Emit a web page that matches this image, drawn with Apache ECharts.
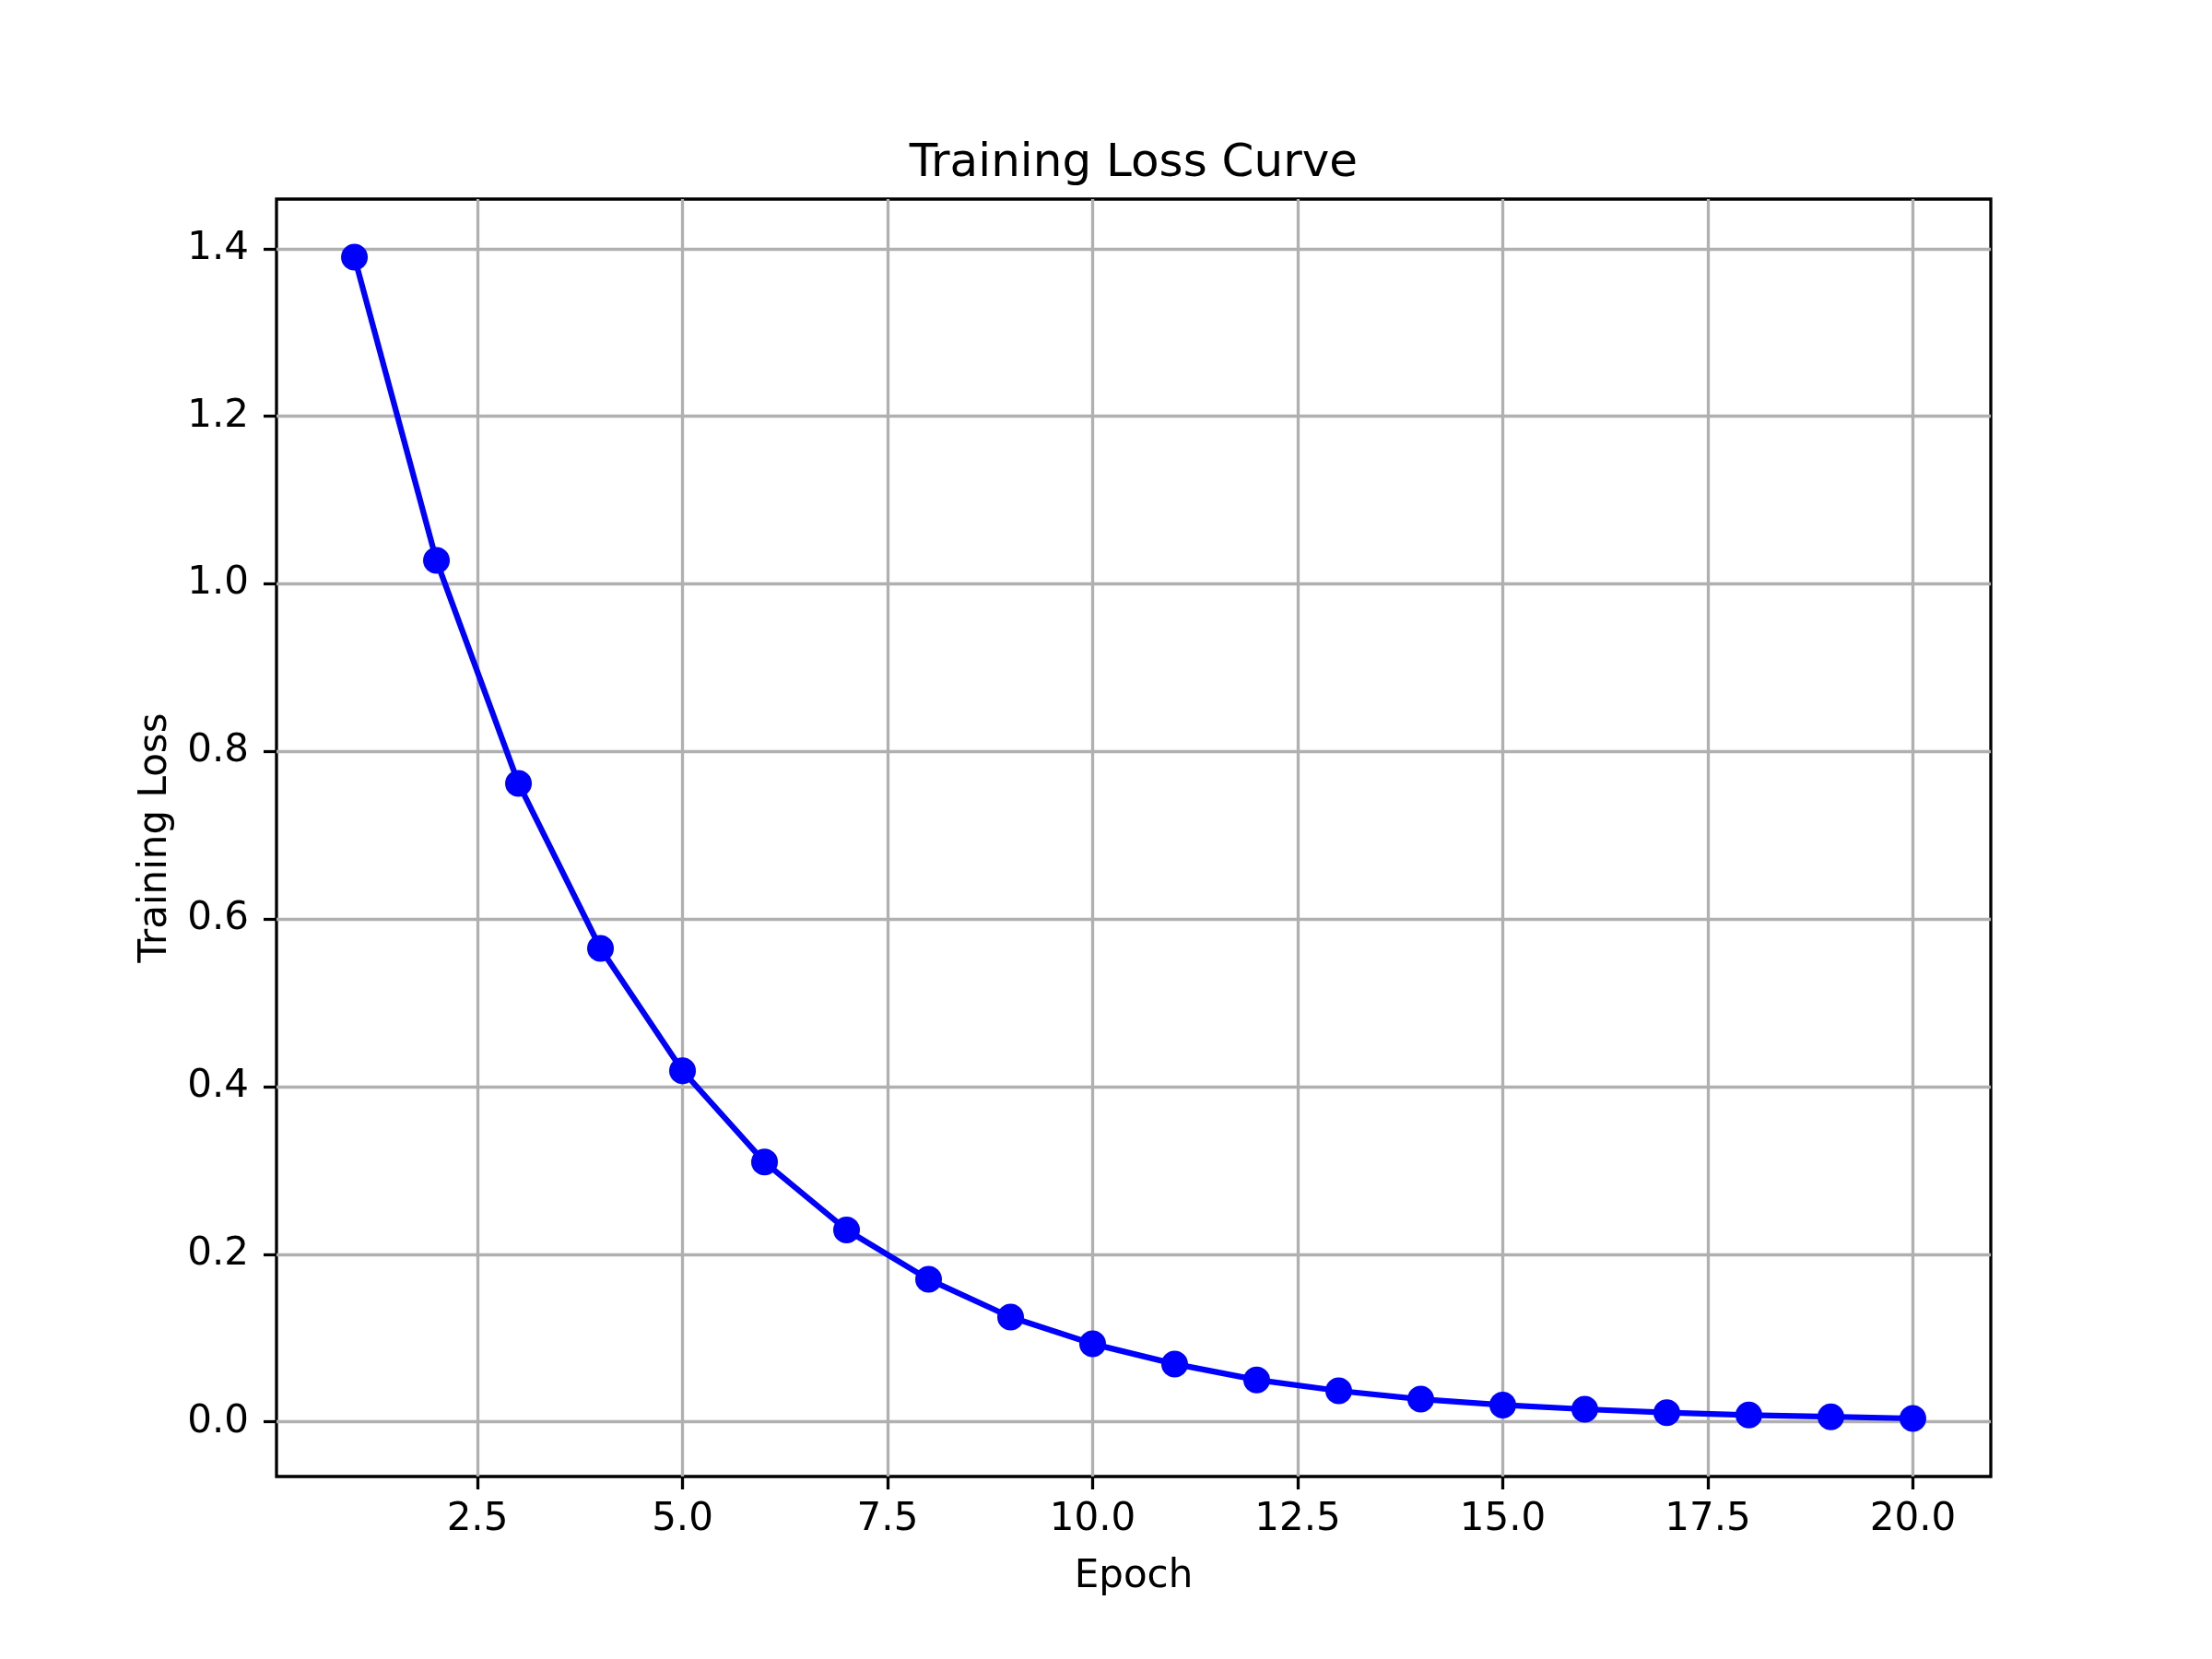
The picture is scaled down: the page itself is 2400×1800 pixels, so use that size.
<!DOCTYPE html>
<html>
<head>
    <meta charset="utf-8">
    <title>Training Loss Curve</title>
    <script src="https://cdn.jsdelivr.net/npm/echarts@6/dist/echarts.min.js"></script>
    <style>
        html, body { margin: 0; padding: 0; background: #fff; }
        #chartmain { width: 2400px; height: 1800px; }
    </style>
</head>
<body>
<div id="chartmain"></div>
<script type="text/javascript">
    // data
    var epochs = [1, 2, 3, 4, 5, 6, 7, 8, 9, 10, 11, 12, 13, 14, 15, 16, 17, 18, 19, 20];
    var loss = [1.390, 1.028, 0.762, 0.565, 0.419, 0.310, 0.229, 0.170, 0.125, 0.093,
                0.069, 0.050, 0.037, 0.027, 0.020, 0.015, 0.011, 0.008, 0.006, 0.004];
    var xTicks = [2.5, 5.0, 7.5, 10.0, 12.5, 15.0, 17.5, 20.0];
    var yTicks = [0.0, 0.2, 0.4, 0.6, 0.8, 1.0, 1.2, 1.4];

    var points = [];
    for (var i = 0; i < epochs.length; i++) {
        points.push([epochs[i], loss[i]]);
    }

    var font = 'DejaVu Sans';
    var myChart = echarts.init(document.getElementById('chartmain'));

    var option = {
        backgroundColor: '#fff',
        animation: false,
        title: {
            text: 'Training Loss Curve',
            left: 1225,
            textAlign: 'center',
            top: 148,
            textStyle: {
                fontFamily: font,
                fontSize: 50,
                fontWeight: 'normal',
                color: '#000'
            }
        },
        grid: {
            left: 300,
            right: 240,
            top: 216,
            bottom: 198,
            containLabel: false,
            show: true,
            borderColor: '#000',
            borderWidth: 3.3,
            backgroundColor: 'transparent'
        },
        xAxis: {
            type: 'value',
            min: 0.05,   // matplotlib 5% margin
            max: 20.95,
            name: 'Epoch',
            nameLocation: 'middle',
            nameGap: 88,
            nameTextStyle: { fontFamily: font, fontSize: 42, color: '#000' },
            axisLine: { show: false, onZero: false },
            axisTick: {
                show: true,
                inside: false,
                length: 14,
                customValues: xTicks,
                lineStyle: { color: '#000', width: 3.3 }
            },
            axisLabel: {
                customValues: xTicks,
                margin: 26,
                fontFamily: font,
                fontSize: 42,
                color: '#000',
                formatter: function (v) { return v.toFixed(1); }
            },
            splitLine: {
                show: true,
                lineStyle: { color: '#b0b0b0', width: 3.3 }
            }
        },
        yAxis: {
            type: 'value',
            min: -0.0653,
            max: 1.4593,
            name: 'Training Loss',
            nameLocation: 'middle',
            nameGap: 110,
            nameRotate: 90,
            nameTextStyle: { fontFamily: font, fontSize: 42, color: '#000' },
            axisLine: { show: false, onZero: false },
            axisTick: {
                show: true,
                inside: false,
                length: 14,
                customValues: yTicks,
                lineStyle: { color: '#000', width: 3.3 }
            },
            axisLabel: {
                customValues: yTicks,
                margin: 30,
                fontFamily: font,
                fontSize: 42,
                color: '#000',
                formatter: function (v) { return v.toFixed(1); }
            },
            splitLine: {
                show: true,
                lineStyle: { color: '#b0b0b0', width: 3.3 }
            }
        },
        series: [
            {
                name: 'Training Loss',
                type: 'line',
                data: points,
                symbol: 'circle',
                symbolSize: 29,
                showAllSymbol: true,
                itemStyle: { color: '#0000ff' },
                lineStyle: { color: '#0000ff', width: 6.25 },
                z: 3
            }
        ]
    };
    myChart.setOption(option);
</script>
</body>
</html>
